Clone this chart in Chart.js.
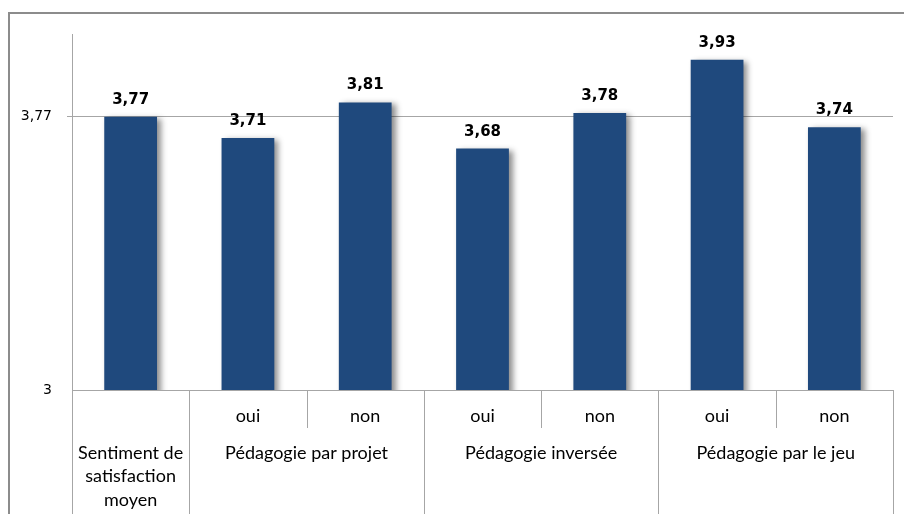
<!DOCTYPE html>
<html>
<head>
<meta charset="utf-8">
<script src="https://cdn.jsdelivr.net/npm/chart.js@4.4.0/dist/chart.umd.min.js"></script>
<style>
  html, body { margin: 0; padding: 0; background: #fff; }
  #wrap { position: relative; width: 904px; height: 514px; }
</style>
</head>
<body>
<div id="wrap"><canvas id="barChart" width="904" height="514"></canvas></div>
<script>
// chart values
const categories = ['Sentiment de satisfaction moyen', 'oui', 'non', 'oui', 'non', 'oui', 'non'];
const subLabels = ['', 'oui', 'non', 'oui', 'non', 'oui', 'non'];
const groups = [
  { label: ['Sentiment de', 'satisfaction', 'moyen'], from: 0, to: 0 },
  { label: ['Pédagogie par projet'], from: 1, to: 2 },
  { label: ['Pédagogie inversée'], from: 3, to: 4 },
  { label: ['Pédagogie par le jeu'], from: 5, to: 6 }
];
const scores = [3.77, 3.71, 3.81, 3.68, 3.78, 3.93, 3.74];
const yTicks = [3, 3.77];

const lineColor = '#a6a6a6';
const labelFont = '18px Lato, "Open Sans", sans-serif';

function fr(v) {
  return String(v).replace('.', ',');
}

// shadow behind the bars
const barShadow = {
  id: 'barShadow',
  beforeDatasetsDraw(chart) {
    const ctx = chart.ctx;
    ctx.save();
    ctx.shadowColor = 'rgba(0,0,0,0.45)';
    ctx.shadowBlur = 6;
    ctx.shadowOffsetX = 4;
    ctx.shadowOffsetY = 2;
  },
  afterDatasetsDraw(chart) {
    chart.ctx.restore();
  }
};

// value labels, category table under the axis, outer frame
const extras = {
  id: 'extras',
  afterDraw(chart) {
    const ctx = chart.ctx;
    const area = chart.chartArea;
    const x = chart.scales.x;
    const bottom = 514;
    ctx.save();

    // bar values
    const meta = chart.getDatasetMeta(0);
    ctx.fillStyle = '#000';
    ctx.font = 'bold 15px "DejaVu Sans", sans-serif';
    ctx.textAlign = 'center';
    ctx.textBaseline = 'alphabetic';
    meta.data.forEach((bar, i) => {
      ctx.fillText(fr(scores[i]), bar.x, bar.y - 13);
    });

    // frame
    ctx.strokeStyle = '#8c8c8c';
    ctx.lineWidth = 2;
    ctx.beginPath();
    ctx.moveTo(9, bottom);
    ctx.lineTo(9, 13);
    ctx.lineTo(904, 13);
    ctx.stroke();

    // table lines
    const step = (area.right - area.left) / categories.length;
    ctx.strokeStyle = lineColor;
    ctx.lineWidth = 1;
    ctx.beginPath();
    ctx.moveTo(area.left + 0.5, area.top - 1);
    ctx.lineTo(area.left + 0.5, bottom);
    for (let i = 1; i <= categories.length; i++) {
      const px = Math.round(area.left + i * step) + 0.5;
      const isGroupEdge = groups.some(g => g.to + 1 === i);
      ctx.moveTo(px, area.bottom);
      ctx.lineTo(px, isGroupEdge ? bottom : area.bottom + 38);
    }
    ctx.stroke();

    // sub labels
    ctx.fillStyle = '#000';
    ctx.font = labelFont;
    ctx.textBaseline = 'middle';
    subLabels.forEach((t, i) => {
      if (t) ctx.fillText(t, x.getPixelForValue(i), area.bottom + 26);
    });

    // group labels
    groups.forEach(g => {
      const cx = (x.getPixelForValue(g.from) + x.getPixelForValue(g.to)) / 2;
      g.label.forEach((line, k) => {
        ctx.fillText(line, cx, area.bottom + 63 + k * 23.5);
      });
    });
    ctx.restore();
  }
};

const ctx = document.getElementById('barChart').getContext('2d');
new Chart(ctx, {
  type: 'bar',
  data: {
    labels: categories,
    datasets: [{
      data: scores,
      backgroundColor: '#1f497d',
      borderWidth: 0,
      categoryPercentage: 1,
      barPercentage: 0.45
    }]
  },
  options: {
    responsive: false,
    animation: false,
    events: [],
    layout: { padding: { left: 8, right: 11, top: 35, bottom: 0 } },
    plugins: {
      legend: { display: false },
      tooltip: { enabled: false }
    },
    scales: {
      x: {
        grid: { display: false },
        border: { display: true, color: lineColor },
        ticks: { display: false },
        afterFit(s) { s.height = 124; }
      },
      y: {
        min: 3,
        max: 4,
        afterBuildTicks(s) { s.ticks = yTicks.map(v => ({ value: v })); },
        afterFit(s) { s.width = 64; },
        grid: {
          color: ctx => (ctx.tick && ctx.tick.value === 3 ? 'rgba(0,0,0,0)' : lineColor),
          tickLength: 5,
          drawTicks: true
        },
        border: { display: true, color: lineColor },
        ticks: {
          color: '#000',
          padding: 15,
          font: { family: '"DejaVu Sans", sans-serif', size: 14 },
          callback: v => fr(v)
        }
      }
    }
  },
  plugins: [barShadow, extras]
});
</script>
</body>
</html>
